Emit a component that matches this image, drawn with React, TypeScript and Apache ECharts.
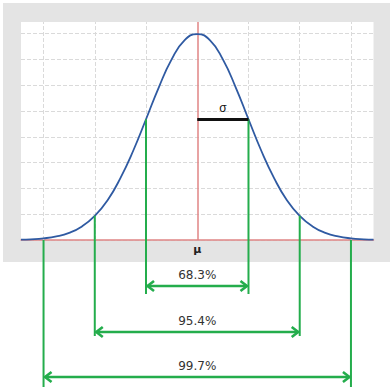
import React, { useEffect, useRef } from "react";
import * as echarts from "echarts";

// Curve samples (x in σ units, y in density units)
const CURVE_X = [-3.44, -3.25, -3, -2.75, -2.5, -2.25, -2, -1.75, -1.5, -1.25, -1, -0.75, -0.5, -0.25, 0,
  0.25, 0.5, 0.75, 1, 1.25, 1.5, 1.75, 2, 2.25, 2.5, 2.75, 3, 3.25, 3.44];
const CURVE_Y = [0.0007, 0.0014, 0.0032, 0.0069, 0.0139, 0.0264, 0.0467, 0.077, 0.12, 0.173, 0.234, 0.296, 0.35, 0.387, 0.399,
  0.387, 0.35, 0.296, 0.234, 0.173, 0.12, 0.077, 0.0467, 0.0264, 0.0139, 0.0069, 0.0032, 0.0014, 0.0007];

const LEVELS = [1, 2, 3];
const LEVEL_TOPS = [0.234, 0.047, 0];
const LEVEL_LABELS = ["68.3%", "95.4%", "99.7%"];
const GRID_X = [-3, -2, -1, 1, 2, 3];
const SIGMA_Y = 0.234;

const GREEN = "#24ad4c";
const RED = "#e08585";
const BLUE = "#2f5aa2";
const GRIDC = "#dadada";
const FONT = '12px "DejaVu Sans"';
// pixel offsets below the baseline for each level: arrow row and bottom of the green lines
const LEVEL_OFFSETS = [
  { arrow: 46, bottom: 54 },
  { arrow: 92, bottom: 96 },
  { arrow: 137, bottom: 147 },
];

export default function App() {
  const ref = useRef<HTMLDivElement>(null);
  useEffect(() => {
    if (!ref.current) return;
    const chart = echarts.init(ref.current, null, { renderer: "svg" });
    const curve = CURVE_X.map((x, i) => [x, CURVE_Y[i]]);
    const levels = LEVELS.map((k, i) => [k, LEVEL_TOPS[i]]);
    chart.setOption({
      animation: false,
      graphic: [
        {
          type: "rect",
          z: -100,
          silent: true,
          shape: { x: 3, y: 3, width: 387, height: 259 },
          style: { fill: "#e4e4e4" },
        },
      ],
      grid: { left: 21, right: 16.5, top: 22, bottom: 151, show: true, backgroundColor: "#ffffff", borderWidth: 0 },
      xAxis: {
        type: "value",
        min: -3.44,
        max: 3.44,
        axisLine: { show: true, lineStyle: { color: RED, width: 1.5 } },
        axisTick: { show: false },
        axisLabel: { show: false },
        splitLine: { show: false },
      },
      yAxis: {
        type: "value",
        min: 0,
        max: 0.4225,
        interval: 0.05,
        axisLine: { show: false },
        axisTick: { show: false },
        axisLabel: { show: false },
        splitLine: { show: true, showMaxLine: false, lineStyle: { color: GRIDC, type: "dashed", width: 1 } },
      },
      series: [
        {
          type: "line",
          data: [],
          z: 1,
          silent: true,
          markLine: {
            z: 1,
            silent: true,
            symbol: ["none", "none"],
            label: { show: false },
            lineStyle: { color: GRIDC, type: "dashed", width: 1 },
            data: [
              ...GRID_X.map((x) => ({ xAxis: x })),
              { xAxis: 0, lineStyle: { color: RED, type: "solid", width: 1.5 } },
            ],
          },
        },
        {
          type: "line",
          data: curve,
          z: 3,
          smooth: true,
          symbol: "none",
          lineStyle: { color: BLUE, width: 1.8 },
          markLine: {
            z: 5,
            silent: true,
            symbol: ["none", "none"],
            data: [
              [
                { coord: [0, SIGMA_Y] },
                { coord: [LEVELS[0], SIGMA_Y] },
              ],
            ],
            lineStyle: { color: "#111", type: "solid", width: 3 },
            label: {
              show: true,
              position: "middle",
              formatter: "σ",
              color: "#111",
              font: 'bold 13px "DejaVu Sans"',
              distance: 5,
            },
          },
        },
        {
          type: "custom",
          clip: false,
          z: 4,
          silent: true,
          encode: { x: 0, y: 1 },
          data: levels,
          renderItem: (params: any, api: any) => {
            const k = api.value(0);
            const top = api.value(1);
            const L = api.coord([-k, top]);
            const R = api.coord([k, top]);
            const B = api.coord([0, 0]);
            const off = LEVEL_OFFSETS[params.dataIndex];
            const ay = B[1] + off.arrow;
            const by = B[1] + off.bottom;
            const st = { stroke: GREEN, lineWidth: 2 };
            const ast = { stroke: GREEN, lineWidth: 2.6, fill: null, lineJoin: "miter" };
            return {
              type: "group",
              children: [
                { type: "line", shape: { x1: L[0], y1: L[1], x2: L[0], y2: by }, style: st },
                { type: "line", shape: { x1: R[0], y1: R[1], x2: R[0], y2: by }, style: st },
                { type: "line", shape: { x1: L[0] + 1.5, y1: ay, x2: R[0] - 1.5, y2: ay }, style: ast },
                {
                  type: "polyline",
                  shape: { points: [[L[0] + 8, ay - 5], [L[0] + 1.5, ay], [L[0] + 8, ay + 5]] },
                  style: ast,
                },
                {
                  type: "polyline",
                  shape: { points: [[R[0] - 8, ay - 5], [R[0] - 1.5, ay], [R[0] - 8, ay + 5]] },
                  style: ast,
                },
                {
                  type: "text",
                  x: (L[0] + R[0]) / 2,
                  y: ay - 11,
                  style: {
                    text: LEVEL_LABELS[params.dataIndex],
                    fill: "#333",
                    font: FONT,
                    align: "center",
                    verticalAlign: "middle",
                  },
                },
              ],
            };
          },
        },
        {
          type: "custom",
          clip: false,
          z: 4,
          silent: true,
          encode: { x: 0, y: 1 },
          data: [[0, 0]],
          renderItem: (_params: any, api: any) => {
            const p = api.coord([api.value(0), api.value(1)]);
            return {
              type: "text",
              x: p[0],
              y: p[1] + 9,
              style: {
                text: "μ",
                fill: "#222",
                font: 'bold 11px "DejaVu Sans"',
                align: "center",
                verticalAlign: "middle",
              },
            };
          },
        },
      ],
    });
    return () => chart.dispose();
  }, []);
  return (
    <div
      ref={ref}
      style={{ position: "fixed", left: 0, top: 0, width: 390, height: 391, background: "#fff" }}
    />
  );
}
